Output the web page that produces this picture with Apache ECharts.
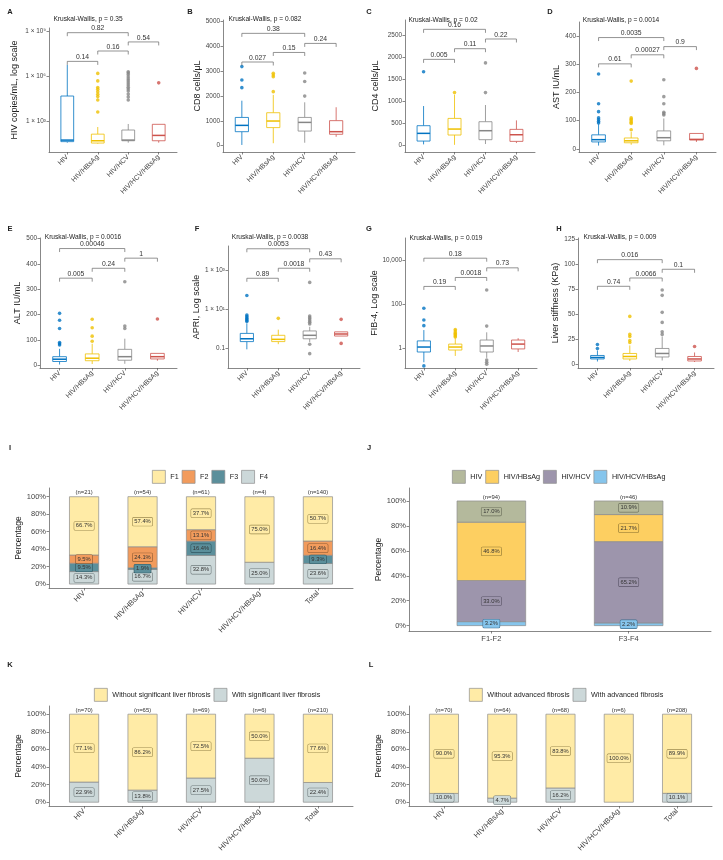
<!DOCTYPE html>
<html>
<head>
<meta charset="utf-8">
<title>HIV coinfection panels</title>
<script src="https://cdn.jsdelivr.net/npm/echarts@6.0.0/dist/echarts.min.js"></script>
<style>
  html, body { margin: 0; padding: 0; background: #fff; }
  #main { width: 723px; height: 860px; }
</style>
</head>
<body>
<div id="main"></div>
<script>
// groups used by the box plots (A-H)
var groups = ['HIV', 'HIV/HBsAg', 'HIV/HCV', 'HIV/HCV/HBsAg'];
var groupColors = ['#0073C2', '#EFC000', '#868686', '#CD534C'];

// box stats per group: [lower whisker, Q1, median, Q3, upper whisker]
// comparisons: [group a, group b, height, p value]

// A - HIV viral load (copies/mL)
var vlBox = [[35, 41, 52, 46000, 5.5e6], [30, 33, 47, 130, 390], [35, 47, 52, 245, 620], [35, 47, 107, 590, 590]];
var vlOut = [[], [1.5e6, 4.7e5, 1.7e5, 1.3e5, 9e4, 6e4, 4.2e4, 2.5e4, 3.9e3],
  [1.9e6, 1.6e6, 1.2e6, 8.5e5, 6.3e5, 4.7e5, 3.4e5, 2.5e5, 1.8e5, 1.35e5, 1e5, 6.3e4, 4e4, 2.5e4], [3.5e5]];
var vlCmp = [[0, 2, 7.9e8, '0.82'], [2, 3, 1.9e8, '0.54'], [1, 2, 4.7e7, '0.16'], [0, 1, 9.5e6, '0.14']];
var vlTicks = [1e3, 1e6, 1e9];
var vlTickText = ['1 \u00d7 10\u00b3', '1 \u00d7 10\u2076', '1 \u00d7 10\u2079'];

// B - CD8 cells/uL
var cd8Box = [[30, 565, 820, 1140, 1815], [100, 730, 995, 1330, 2050], [120, 590, 940, 1140, 1750], [360, 460, 565, 1010, 1550]];
var cd8Out = [[2340, 2650, 3190], [2180, 2780, 2850, 2920], [2000, 2590, 2930], []];
var cd8Cmp = [[0, 2, 4530, '0.38'], [2, 3, 4125, '0.24'], [1, 2, 3760, '0.15'], [0, 1, 3375, '0.027']];
var cd8Ticks = [0, 1000, 2000, 3000, 4000, 5000];

// C - CD4 cells/uL
var cd4Box = [[30, 105, 279, 452, 896], [20, 241, 376, 617, 1150], [38, 136, 339, 542, 919], [60, 98, 248, 369, 572]];
var cd4Out = [[1670], [1200], [1200, 1870], []];
var cd4Cmp = [[0, 2, 2628, '0.16'], [2, 3, 2410, '0.22'], [1, 2, 2191, '0.11'], [0, 1, 1950, '0.005']];
var cd4Ticks = [0, 500, 1000, 1500, 2000, 2500];

// D - AST IU/mL
var astBox = [[12, 25, 33, 50, 88], [15, 22, 29, 39, 60], [13, 29, 40, 64, 108], [25, 32, 34, 55, 55]];
var astOut = [[92, 97, 103, 110, 132, 160, 265], [68, 90, 95, 100, 105, 110, 240], [120, 125, 130, 160, 185, 245], [285]];
var astCmp = [[0, 2, 394, '0.0035'], [2, 3, 362, '0.9'], [1, 2, 333, '0.00027'], [0, 1, 301, '0.61']];
var astTicks = [0, 100, 200, 300, 400];

// E - ALT IU/mL
var altBox = [[3, 15, 24, 34, 65], [5, 18, 28, 45, 85], [6, 20, 34, 63, 105], [18, 25, 34, 47, 47]];
var altOut = [[80, 85, 90, 145, 178, 205], [95, 115, 148, 182], [145, 155, 330], [183]];
var altCmp = [[0, 2, 461, '0.00046'], [2, 3, 423, '1'], [1, 2, 383, '0.24'], [0, 1, 344, '0.005']];
var altTicks = [0, 100, 200, 300, 400, 500];

// F - APRI
var apriBox = [[0.093, 0.23, 0.32, 0.6, 1.95], [0.17, 0.23, 0.3, 0.48, 0.93], [0.22, 0.32, 0.48, 0.8, 1.3], [0.44, 0.44, 0.56, 0.72, 0.72]];
var apriOut = [[2.4, 2.75, 3.2, 3.6, 4.3, 5.1, 51], [3.5], [1.8, 2.2, 2.6, 3.2, 3.8, 4.6, 234, 0.17, 0.056], [3.1, 0.186]];
var apriCmp = [[0, 2, 12000, '0.0053'], [2, 3, 3700, '0.43'], [1, 2, 1230, '0.0018'], [0, 1, 380, '0.89']];
var apriTicks = [0.1, 10, 1000];
var apriTickText = ['0.1', '1 \u00d7 10\u00b9', '1 \u00d7 10\u00b3'];

// G - FIB-4
var fib4Box = [[0.22, 0.65, 1.1, 2.1, 6.6], [0.43, 0.8, 1.1, 1.5, 2.8], [0.35, 0.65, 1.23, 2.3, 5.2], [0.65, 0.9, 1.5, 2.3, 2.8]];
var fib4Out = [[66, 19, 10.5, 0.15], [7, 6, 5, 4.5, 4, 3.5, 3.2], [455, 10, 0.28, 0.22, 0.18], []];
var fib4Cmp = [[0, 2, 13000, '0.18'], [2, 3, 4700, '0.73'], [1, 2, 1700, '0.0018'], [0, 1, 660, '0.19']];
var fib4Ticks = [1, 100, 10000];
var fib4TickText = ['1', '100', '10,000'];

// H - liver stiffness (KPa)
var lsmBox = [[3, 5.5, 7, 9, 14], [3.5, 5.5, 8, 11, 19], [4, 7.5, 11, 16, 28], [2.5, 3.5, 5.5, 8, 12]];
var lsmOut = [[16, 20], [22, 24, 28, 30, 48], [30, 32.6, 42, 52, 69, 74.3], [18]];
var lsmCmp = [[0, 2, 104.6, '0.016'], [2, 3, 95, '0.1'], [1, 2, 86.3, '0.0066'], [0, 1, 78, '0.74']];
var lsmTicks = [0, 25, 50, 75, 100, 125];

var yNames = ['HIV copies/mL, log scale', 'CD8 cells/\u03bcL', 'CD4 cells/\u03bcL', 'AST IU/mL',
  'ALT IU/mL', 'APRI, Log scale', 'FIB-4, Log scale', 'Liver stiffness (KPa)'];
var kwP = ['0.35', '0.082', '0.02', '0.0014', '0.0016', '0.0038', '0.019', '0.009'];

// I - fibrosis stage by group (%)
var fibCats = ['HIV', 'HIV/HBsAg', 'HIV/HCV', 'HIV/HCV/HBsAg', 'Total'];
var fibF1 = [66.7, 57.4, 37.7, 75.0, 50.7];
var fibF2 = [9.5, 24.1, 13.1, 0, 16.4];
var fibF3 = [9.5, 1.9, 16.4, 0, 9.3];
var fibF4 = [14.3, 16.7, 32.8, 25.0, 23.6];
var fibN = [21, 54, 61, 4, 140];

// J - group by stage (%)
var stageCats = ['F1-F2', 'F3-F4'];
var stHIV = [17.0, 10.9];
var stHBsAg = [46.8, 21.7];
var stHCV = [33.0, 65.2];
var stTri = [3.2, 2.2];
var stN = [94, 46];

// K - significant fibrosis (%)
var sigWithout = [77.1, 86.2, 72.5, 50.0, 77.6];
var sigWith = [22.9, 13.8, 27.5, 50.0, 22.4];
var sigN = [70, 65, 69, 6, 210];

// L - advanced fibrosis (%)
var advWithout = [90.0, 95.3, 83.8, 100.0, 89.9];
var advWith = [10.0, 4.7, 16.2, 0, 10.1];
var advN = [70, 64, 68, 6, 208];

var FONT = '"Liberation Sans", Arial, Helvetica, sans-serif';
var AX = '#555';
var EDGE = '#8c8c8c';

function lg(v) { return Math.log(v) / Math.LN10; }
function lin(v) { return v; }

var chart = echarts.init(document.getElementById('main'));
var grids = [], xAxes = [], yAxes = [], series = [], legends = [], graphics = [];

function addText(text, x, y, size, bold) {
    graphics.push({
        type: 'text', x: x, y: y, silent: true,
        style: {
            text: text, fontSize: size, fontWeight: bold ? 'bold' : 'normal', fontFamily: FONT, fill: '#222',
            align: 'center', verticalAlign: 'middle', textAlign: 'center', textVerticalAlign: 'middle'
        }
    });
}

function addGrid(P) {
    grids.push({left: P.l, top: P.t, width: P.r - P.l, height: P.b - P.t, outerBoundsMode: 'none'});
}

function xAxisCfg(k, names, rotate, fs) {
    var idx = names.map(function (d, i) { return i; });
    return {
        gridIndex: k, type: 'value', min: -0.6, max: names.length - 0.4,
        axisLine: {show: true, onZero: false, lineStyle: {color: AX, width: 0.7}},
        axisTick: {show: true, length: 2.5, customValues: idx, lineStyle: {color: AX, width: 0.7}},
        axisLabel: {
            customValues: idx, rotate: rotate, fontSize: fs, color: '#444', margin: 4, fontFamily: FONT,
            formatter: function (v) { return names[Math.round(v)]; }
        },
        splitLine: {show: false}
    };
}

function yAxisCfg(k, P, tv, fmt, name, fs, nameFs) {
    return {
        gridIndex: k, type: 'value', min: P.min, max: P.max,
        axisLine: {show: true, onZero: false, lineStyle: {color: AX, width: 0.7}},
        axisTick: {show: true, length: 2.5, customValues: tv, lineStyle: {color: AX, width: 0.7}},
        axisLabel: {customValues: tv, formatter: fmt, fontSize: fs, color: '#444', margin: 3, fontFamily: FONT},
        splitLine: {show: false},
        name: name, nameLocation: 'middle', nameGap: P.gap,
        nameTextStyle: {fontSize: nameFs, color: '#222', fontFamily: FONT}
    };
}

function addBoxPanel(k, P) {
    var tf = P.log ? lg : lin;
    addGrid(P);
    xAxes.push(xAxisCfg(k, groups, 45, 7));
    var tv = P.ticks.map(tf);
    yAxes.push(yAxisCfg(k, P, tv, function (v) {
        for (var i = 0; i < tv.length; i++) {
            if (Math.abs(tv[i] - v) < 1e-6) return P.tickText ? P.tickText[i] : String(P.ticks[i]);
        }
        return '';
    }, P.name, 6.4, 9));

    // boxes + whiskers (no caps, like ggplot)
    series.push({
        type: 'custom', name: 'box' + k, xAxisIndex: k, yAxisIndex: k, silent: true, z: 2,
        data: P.box.map(function (s, i) { return [i].concat(s.map(tf)); }),
        encode: {x: 0, y: [1, 2, 3, 4, 5]},
        renderItem: function (params, api) {
            var i = api.value(0);
            var c = groupColors[i];
            var x = api.coord([i, 0])[0];
            var hw = api.size([0.21, 0])[0];
            var y = [1, 2, 3, 4, 5].map(function (d) { return api.coord([i, api.value(d)])[1]; });
            return {
                type: 'group', children: [
                    {type: 'line', shape: {x1: x, y1: y[0], x2: x, y2: y[1]}, style: {stroke: c, lineWidth: 0.8}},
                    {type: 'line', shape: {x1: x, y1: y[3], x2: x, y2: y[4]}, style: {stroke: c, lineWidth: 0.8}},
                    {type: 'rect', shape: {x: x - hw, y: y[3], width: 2 * hw, height: Math.max(y[1] - y[3], 0.5)},
                        style: {fill: '#fff', stroke: c, lineWidth: 0.8}},
                    {type: 'line', shape: {x1: x - hw, y1: y[2], x2: x + hw, y2: y[2]}, style: {stroke: c, lineWidth: 1.5}}
                ]
            };
        }
    });

    // outliers
    var pts = [];
    P.out.forEach(function (vals, i) {
        vals.forEach(function (v) {
            pts.push({value: [i, tf(v)], itemStyle: {color: groupColors[i]}});
        });
    });
    series.push({
        type: 'scatter', name: 'out' + k, xAxisIndex: k, yAxisIndex: k, silent: true, z: 3,
        symbolSize: 3.6, data: pts
    });

    // pairwise comparison brackets
    series.push({
        type: 'custom', name: 'cmp' + k, xAxisIndex: k, yAxisIndex: k, silent: true, z: 4, clip: false,
        data: P.cmp.map(function (c) { return [c[0], c[1], tf(c[2])]; }),
        encode: {x: [0, 1], y: 2},
        renderItem: function (params, api) {
            var a = api.coord([api.value(0), api.value(2)]);
            var b = api.coord([api.value(1), api.value(2)]);
            return {
                type: 'group', children: [
                    {type: 'polyline', shape: {points: [[a[0], a[1] + 3.5], [a[0], a[1]], [b[0], b[1]], [b[0], b[1] + 3.5]]},
                        style: {stroke: '#666', lineWidth: 0.7, fill: 'none'}},
                    {type: 'text', x: (a[0] + b[0]) / 2, y: a[1] - 0.8,
                        style: {text: P.cmp[params.dataIndex][3], fontSize: 6.8, fontFamily: FONT, fill: '#333',
                            align: 'center', verticalAlign: 'bottom', textAlign: 'center', textVerticalAlign: 'bottom'}}
                ]
            };
        }
    });

    addText('Kruskal-Wallis, p = ' + P.p, P.kwX, P.kwY, 6.6, false);
    addText(P.letter, P.lx, P.ly, 7.5, true);
}

function addStackPanel(k, P) {
    addGrid(P);
    xAxes.push(xAxisCfg(k, P.cats, P.rotate, 7.5));
    yAxes.push(yAxisCfg(k, P, [0, 20, 40, 60, 80, 100], function (v) { return Math.round(v) + '%'; }, 'Percentage', 7.5, 8.5));

    var cum = P.cats.map(function () { return 0; });
    var labels = [];
    P.layers.forEach(function (L, li) {
        var rows = L.vals.map(function (v, i) {
            var lo = cum[i];
            cum[i] = lo + v;
            labels.push([i, lo + v / 2, v, li]);
            return [i, lo, lo + v];
        });
        series.push({
            type: 'custom', name: L.name, xAxisIndex: k, yAxisIndex: k, silent: true, z: 2,
            itemStyle: {color: L.fill, borderColor: EDGE, borderWidth: 0.7},
            data: rows, encode: {x: 0, y: [1, 2]},
            renderItem: function (params, api) {
                var i = api.value(0), lo = api.value(1), hi = api.value(2);
                if (hi - lo <= 0) return null;
                var a = api.coord([i - 0.25, hi]);
                var b = api.coord([i + 0.25, lo]);
                return {
                    type: 'rect', shape: {x: a[0], y: a[1], width: b[0] - a[0], height: b[1] - a[1]},
                    style: {fill: L.fill, stroke: EDGE, lineWidth: 0.7}
                };
            }
        });
    });

    // percentage labels on top of all segments
    series.push({
        type: 'custom', name: 'pct' + k, xAxisIndex: k, yAxisIndex: k, silent: true, z: 5,
        data: labels, encode: {x: 0, y: 1},
        renderItem: function (params, api) {
            var lab = labels[params.dataIndex];
            if (lab[2] <= 0) return null;
            var L = P.layers[lab[3]];
            var p = api.coord([lab[0], lab[1]]);
            return {
                type: 'text', x: p[0], y: p[1],
                style: {
                    text: lab[2].toFixed(1) + '%', fontSize: 5.8, fontFamily: FONT, fill: '#333',
                    backgroundColor: L.fill, borderColor: L.edge, borderWidth: 0.6, borderRadius: 1,
                    padding: [1.3, 1.6, 0.8, 1.6],
                    align: 'center', verticalAlign: 'middle', textAlign: 'center', textVerticalAlign: 'middle'
                }
            };
        }
    });

    // (n=..) above each bar
    series.push({
        type: 'custom', name: 'n' + k, xAxisIndex: k, yAxisIndex: k, silent: true, z: 5, clip: false,
        data: P.n.map(function (n, i) { return [i, 100]; }), encode: {x: 0, y: 1},
        renderItem: function (params, api) {
            var p = api.coord([api.value(0), api.value(1)]);
            return {
                type: 'text', x: p[0], y: p[1] - 1,
                style: {text: '(n=' + P.n[params.dataIndex] + ')', fontSize: 5.9, fontFamily: FONT, fill: '#333',
                    align: 'center', verticalAlign: 'bottom', textAlign: 'center', textVerticalAlign: 'bottom'}
            };
        }
    });

    legends.push({
        data: P.legend, left: P.legLeft, top: P.legTop, orient: 'horizontal',
        itemWidth: 13, itemHeight: 13, itemGap: 3, icon: 'rect', selectedMode: false,
        itemStyle: {borderColor: EDGE, borderWidth: 0.7},
        textStyle: {fontSize: 7.2, color: '#222', fontFamily: FONT}
    });
    addText(P.letter, P.lx, P.ly, 7.5, true);
}

var boxPanels = [
    {letter: 'A', lx: 10, ly: 12, box: vlBox, out: vlOut, cmp: vlCmp, ticks: vlTicks, tickText: vlTickText, log: true,
        kwX: 88, kwY: 19, l: 49, t: 28, r: 177, b: 152, min: 0.92, max: 9.21, gap: 30},
    {letter: 'B', lx: 190, ly: 12, box: cd8Box, out: cd8Out, cmp: cd8Cmp, ticks: cd8Ticks, log: false,
        kwX: 265, kwY: 19, l: 223, t: 20, r: 355, b: 152, min: -254, max: 5069, gap: 21},
    {letter: 'C', lx: 369, ly: 12, box: cd4Box, out: cd4Out, cmp: cd4Cmp, ticks: cd4Ticks, log: false,
        kwX: 443, kwY: 20, l: 405, t: 20, r: 535, b: 152, min: -142, max: 2839, gap: 25},
    {letter: 'D', lx: 550, ly: 12, box: astBox, out: astOut, cmp: astCmp, ticks: astTicks, log: false,
        kwX: 621, kwY: 20, l: 579, t: 22, r: 716, b: 152, min: -10.6, max: 449, gap: 17},
    {letter: 'E', lx: 10, ly: 229, box: altBox, out: altOut, cmp: altCmp, ticks: altTicks, log: false,
        kwX: 83, kwY: 237, l: 40, t: 238, r: 177, b: 368, min: -10.7, max: 502.6, gap: 18},
    {letter: 'F', lx: 197, ly: 229, box: apriBox, out: apriOut, cmp: apriCmp, ticks: apriTicks, tickText: apriTickText, log: true,
        kwX: 270, kwY: 237, l: 228, t: 246, r: 360, b: 368, min: -1.98, max: 4.22, gap: 26},
    {letter: 'G', lx: 369, ly: 229, box: fib4Box, out: fib4Out, cmp: fib4Cmp, ticks: fib4Ticks, tickText: fib4TickText, log: true,
        kwX: 446, kwY: 238, l: 405, t: 238, r: 537, b: 368, min: -0.92, max: 5.04, gap: 23},
    {letter: 'H', lx: 559, ly: 229, box: lsmBox, out: lsmOut, cmp: lsmCmp, ticks: lsmTicks, log: false,
        kwX: 620, kwY: 237, l: 578, t: 238, r: 714, b: 368, min: -3.5, max: 126.2, gap: 16}
];
boxPanels.forEach(function (P, k) {
    P.name = yNames[k];
    P.p = kwP[k];
    addBoxPanel(k, P);
});

var YEL = '#FFEBA6', GRY = '#CCD8D9';
var stackPanels = [
    {letter: 'I', lx: 10, ly: 448, cats: fibCats, n: fibN, rotate: 45, legend: ['F1', 'F2', 'F3', 'F4'], legLeft: 147, legTop: 465,
        l: 49, t: 488, r: 353, b: 588, min: -4.5, max: 110, gap: 23,
        layers: [
            {name: 'F4', vals: fibF4, fill: GRY, edge: '#6f7b7c'},
            {name: 'F3', vals: fibF3, fill: '#5B8F9B', edge: '#2f5660'},
            {name: 'F2', vals: fibF2, fill: '#F29B5C', edge: '#8c5a32'},
            {name: 'F1', vals: fibF1, fill: YEL, edge: '#9c8a4e'}
        ]},
    {letter: 'J', lx: 369, ly: 448, cats: stageCats, n: stN, rotate: 0, legend: ['HIV', 'HIV/HBsAg', 'HIV/HCV', 'HIV/HCV/HBsAg'],
        legLeft: 447, legTop: 465, l: 409, t: 488, r: 711, b: 631, min: -4.3, max: 110.4, gap: 24,
        layers: [
            {name: 'HIV/HCV/HBsAg', vals: stTri, fill: '#86C5EC', edge: '#3f6f8f'},
            {name: 'HIV/HCV', vals: stHCV, fill: '#9D95AC', edge: '#5b5568'},
            {name: 'HIV/HBsAg', vals: stHBsAg, fill: '#FDCF61', edge: '#8f7632'},
            {name: 'HIV', vals: stHIV, fill: '#B4B99C', edge: '#6b6f5b'}
        ]},
    {letter: 'K', lx: 10, ly: 665, cats: fibCats, n: sigN, rotate: 45,
        legend: ['Without significant liver fibrosis', 'With significant liver fibrosis'], legLeft: 89, legTop: 683,
        l: 49, t: 706, r: 353, b: 806, min: -4.3, max: 109.3, gap: 23,
        layers: [
            {name: 'With significant liver fibrosis', vals: sigWith, fill: GRY, edge: '#6f7b7c'},
            {name: 'Without significant liver fibrosis', vals: sigWithout, fill: YEL, edge: '#9c8a4e'}
        ]},
    {letter: 'L', lx: 371, ly: 665, cats: fibCats, n: advN, rotate: 45,
        legend: ['Without advanced fibrosis', 'With advanced fibrosis'], legLeft: 464, legTop: 683,
        l: 409, t: 706, r: 712, b: 806, min: -4.3, max: 109.3, gap: 24,
        layers: [
            {name: 'With advanced fibrosis', vals: advWith, fill: GRY, edge: '#6f7b7c'},
            {name: 'Without advanced fibrosis', vals: advWithout, fill: YEL, edge: '#9c8a4e'}
        ]}
];
stackPanels.forEach(function (P, j) {
    addStackPanel(boxPanels.length + j, P);
});

chart.setOption({
    animation: false,
    backgroundColor: '#fff',
    textStyle: {fontFamily: FONT},
    grid: grids,
    xAxis: xAxes,
    yAxis: yAxes,
    legend: legends,
    series: series,
    graphic: graphics
});
</script>
</body>
</html>
